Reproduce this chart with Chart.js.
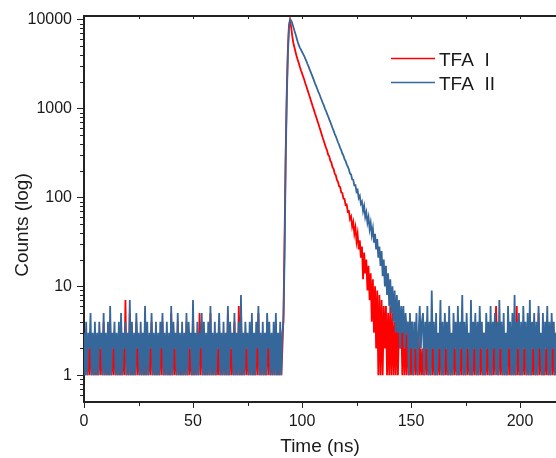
<!DOCTYPE html>
<html>
<head>
<meta charset="utf-8">
<title>TFA decay</title>
<script src="https://cdn.jsdelivr.net/npm/chart.js@4.4.1/dist/chart.umd.min.js"></script>
<style>
  html, body { margin: 0; padding: 0; background: #fff; }
</style>
</head>
<body>
<canvas id="decay" width="556" height="458"></canvas>
<script>
// time axis: one channel every 0.5 ns starting at 0 ns
const timeStartNs = 0;
const timeStepNs = 0.5;

// TFA I (red) counts: baseline 0-91 ns, rise + decay 91.5-155 ns, tail 155.5-217 ns
const tfa1Baseline = [
  2,1,3,1,2,1,3,1,2,1,3,1,2,1,3,1,2,1,4,1,2,1,3,1,4,1,2,1,3,1,
  2,1,3,1,4,1,2,1,7,1,2,1,5,1,3,1,2,1,4,1,2,1,3,1,2,1,4,1,3,1,
  2,1,4,1,2,1,3,1,2,1,3,1,4,1,2,1,3,1,2,1,5,1,3,1,2,1,4,1,2,1,
  3,1,2,1,4,1,3,1,2,1,5,1,2,1,3,1,5,1,4,1,3,1,2,1,3,1,5,1,2,1,
  3,1,2,1,4,1,2,1,3,1,2,1,5,1,3,1,2,1,4,1,2,1,6,1,6,1,2,1,3,1,
  2,1,3,1,4,1,2,1,3,1,5,1,2,1,3,1,2,1,4,1,3,1,2,1,3,1,4,1,2,1,3,1,2
];
const tfa1Decay = [
  5, 35, 320, 1500, 4600, 8600, 10000, 8300, 6600, 5500,
  4900, 4350, 3900, 3550, 3250, 2950, 2700, 2500, 2300, 2120,
  1930, 1780, 1630, 1490, 1370, 1250, 1140, 1040, 960, 875,
  805, 735, 675, 615, 565, 515, 470, 432, 395, 362,
  338, 302, 290, 258, 246, 218, 210, 185, 178, 158,
  150, 134, 131, 114, 112, 97, 96, 82, 83, 69,
  70, 57, 61, 47, 53, 39, 46, 32, 39, 26,
  33, 21, 28, 12, 24, 14, 20, 9, 17, 7,
  14, 4, 12, 3, 10, 2, 9, 1, 8, 1,
  7, 1, 6, 2, 6, 1, 5, 1, 6, 1,
  5, 1, 4, 1, 5, 1, 4, 2, 5, 1,
  4, 1, 3, 1, 4, 1, 3, 1, 4, 1,
  3, 1, 2, 1, 3, 1, 2, 1
];
const tfa1Tail = [
  2,1,3,1,2,1,3,1,4,1,2,1,3,1,2,1,3,1,2,1,3,1,2,1,4,1,2,1,3,1,2,
  1,3,1,2,1,4,1,2,1,3,1,2,1,3,1,2,1,3,1,2,1,4,1,2,1,3,1,2,1,3,1,
  2,1,3,1,2,6,2,1,3,1,2,1,3,1,2,1,4,1,2,1,3,1,2,1,6,1,2,1,3,1,2,
  1,3,1,2,1,4,1,2,1,3,1,2,1,5,1,2,1,3,1,2,1,3,1,2,1,4,1,2,1,3,1
];

// TFA II (blue) counts, same channels
const tfa2Baseline = [
  3,1,4,1,3,2,5,1,3,1,4,1,3,1,4,2,3,1,5,1,3,1,4,1,6,1,3,2,4,1,
  3,1,4,1,5,1,3,2,4,1,3,1,7,1,4,1,3,1,5,2,3,1,4,1,3,1,6,1,4,1,
  3,2,5,1,3,1,4,1,3,1,4,2,5,1,3,1,4,1,3,1,6,1,4,2,3,1,5,1,3,1,
  4,1,3,1,5,1,4,2,3,1,7,1,3,1,4,1,3,2,5,1,4,1,3,1,4,1,6,1,3,1,
  4,1,3,2,5,1,3,1,4,1,3,1,6,1,4,2,3,1,5,1,3,1,4,1,8,1,3,1,4,2,
  3,1,4,1,5,1,3,1,4,2,6,1,3,1,4,1,3,1,5,2,4,1,3,1,4,1,5,1,3,1,4,1,3
];
const tfa2Decay = [
  4, 22, 240, 1250, 3900, 7900, 10000, 9850, 9150, 8350,
  7550, 6900, 6250, 5650, 5200, 4850, 4600, 4350, 4120, 3900,
  3640, 3420, 3170, 2980, 2760, 2570, 2390, 2230, 2060, 1910,
  1790, 1660, 1540, 1450, 1340, 1250, 1160, 1090, 1000, 945,
  870, 815, 755, 705, 650, 605, 565, 520, 488, 452,
  418, 392, 362, 340, 312, 296, 270, 256, 236, 222,
  208, 186, 181, 160, 158, 137, 138, 116, 121, 98,
  104, 85, 90, 70, 80, 60, 68, 52, 60, 44,
  52, 38, 45, 31, 39, 26, 34, 21, 28, 17,
  25, 13, 20, 10, 17, 8, 14, 6, 12, 5,
  10, 4, 9, 3, 8, 3, 7, 2, 6, 3,
  6, 2, 5, 3, 4, 1, 5, 2, 4, 1,
  4, 2, 5, 1, 3, 6, 2, 4
];
const tfa2Tail = [
  5,1,4,2,6,1,4,1,9,2,4,1,5,1,3,2,7,1,4,1,5,2,4,1,6,1,3,1,5,2,4,
  1,6,1,4,2,8,1,4,1,5,2,3,1,7,1,4,2,5,1,4,1,6,2,4,1,3,1,5,2,4,1,
  6,1,4,2,5,1,4,1,7,2,4,1,5,1,3,1,6,2,4,1,5,1,8,1,4,2,5,1,4,1,6,
  2,4,1,5,1,7,1,4,2,5,1,4,1,6,2,3,1,5,1,4,2,6,1,4,1,5,2,4,1,3,2
];

const seriesNames = ['TFA  I', 'TFA  II'];
const seriesColors = ['#ff0000', '#36679b'];
const xTickValues = [0, 50, 100, 150, 200];
const yTickValues = [1, 10, 100, 1000, 10000];

const FONT = "'Liberation Sans', Arial, sans-serif";
const AXIS_COLOR = '#222';

function toPoints(counts) {
  return counts.map((c, i) => ({ x: timeStartNs + i * timeStepNs, y: c }));
}

const tfa1Counts = [...tfa1Baseline, ...tfa1Decay, ...tfa1Tail];
const tfa2Counts = [...tfa2Baseline, ...tfa2Decay, ...tfa2Tail];

// minor ticks, top frame line, legend and axis titles
const framePlugin = {
  id: 'frame',
  afterDraw(chart) {
    const { ctx, chartArea: area, scales } = chart;
    const xs = scales.x;
    const ys = scales.y;
    ctx.save();
    ctx.strokeStyle = AXIS_COLOR;

    ctx.lineWidth = 2;
    ctx.beginPath();
    ctx.moveTo(area.left - 1, area.top);
    ctx.lineTo(area.right, area.top);
    ctx.stroke();

    ctx.lineWidth = 1;
    ctx.beginPath();
    [0.1, 1, 10, 100, 1000].forEach((decade) => {
      for (let m = 2; m <= 9; m++) {
        const v = decade * m;
        if (v <= ys.min || v >= ys.max) continue;
        const py = Math.round(ys.getPixelForValue(v)) + 0.5;
        ctx.moveTo(area.left - 4, py);
        ctx.lineTo(area.left, py);
      }
    });
    for (let t = 25; t < xs.max; t += 50) {
      const px = Math.round(xs.getPixelForValue(t)) + 0.5;
      ctx.moveTo(px, area.bottom);
      ctx.lineTo(px, area.bottom + 4);
    }
    for (let t = 25; t < xs.max; t += 25) {
      const px = Math.round(xs.getPixelForValue(t)) + 0.5;
      ctx.moveTo(px, area.top);
      ctx.lineTo(px, area.top + 3);
    }
    ctx.stroke();

    // legend
    ctx.font = `19px ${FONT}`;
    ctx.textBaseline = 'alphabetic';
    ctx.textAlign = 'left';
    seriesNames.forEach((name, i) => {
      const ly = 58.5 + i * 24;
      ctx.strokeStyle = seriesColors[i];
      ctx.lineWidth = 1.5;
      ctx.beginPath();
      ctx.moveTo(391, ly);
      ctx.lineTo(435, ly);
      ctx.stroke();
      ctx.fillStyle = '#1a1a1a';
      ctx.fillText(name, 439, ly + 7.5);
    });

    // axis titles
    ctx.fillStyle = '#1a1a1a';
    ctx.textAlign = 'center';
    ctx.fillText('Time (ns)', 320, 452);
    ctx.translate(28, 225);
    ctx.rotate(-Math.PI / 2);
    ctx.fillText('Counts (log)', 0, 0);
    ctx.restore();
  }
};

new Chart(document.getElementById('decay'), {
  type: 'line',
  data: {
    datasets: [
      {
        label: seriesNames[0],
        data: toPoints(tfa1Counts),
        borderColor: seriesColors[0],
        borderWidth: 1.8,
        pointRadius: 0,
        order: 1
      },
      {
        label: seriesNames[1],
        data: toPoints(tfa2Counts),
        borderColor: seriesColors[1],
        borderWidth: 1.8,
        pointRadius: 0,
        order: 0
      }
    ]
  },
  options: {
    responsive: false,
    animation: false,
    devicePixelRatio: 1,
    layout: { padding: { top: 16, left: 0, right: 0, bottom: 0 } },
    plugins: {
      legend: { display: false },
      tooltip: { enabled: false }
    },
    scales: {
      x: {
        type: 'linear',
        min: 0,
        max: 216.5,
        afterBuildTicks: (scale) => {
          scale.ticks = xTickValues.map((v) => ({ value: v }));
        },
        afterFit: (scale) => { scale.height = 56; },
        grid: { drawOnChartArea: false, tickLength: 6, tickWidth: 1, tickColor: AXIS_COLOR },
        border: { display: true, color: AXIS_COLOR, width: 2 },
        ticks: { color: '#1a1a1a', font: { family: FONT, size: 16 }, padding: 4, maxRotation: 0, autoSkip: false }
      },
      y: {
        type: 'logarithmic',
        min: 0.5,
        max: 11000,
        afterBuildTicks: (scale) => {
          scale.ticks = yTickValues.map((v) => ({ value: v }));
        },
        afterFit: (scale) => { scale.width = 84; },
        grid: { drawOnChartArea: false, tickLength: 7, tickWidth: 1, tickColor: AXIS_COLOR },
        border: { display: true, color: AXIS_COLOR, width: 2 },
        ticks: {
          color: '#1a1a1a',
          font: { family: FONT, size: 16 },
          padding: 5,
          autoSkip: false,
          callback: (v) => String(v)
        }
      }
    }
  },
  plugins: [framePlugin]
});
</script>
</body>
</html>
